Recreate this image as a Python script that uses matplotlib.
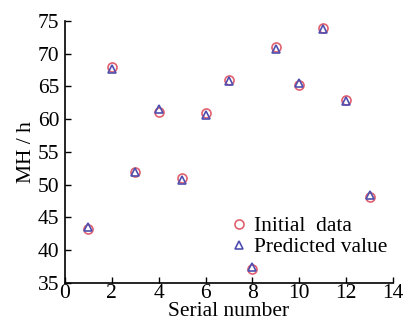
import matplotlib
matplotlib.use('Agg')
import matplotlib.pyplot as plt

plt.rcParams['font.family'] = 'Liberation Serif'
plt.rcParams['font.size'] = 15.5

serial = [1, 2, 3, 4, 5, 6, 7, 8, 9, 10, 11, 12, 13]
initial = [43.2, 68.0, 52.0, 61.1, 51.0, 61.0, 66.0, 37.1, 71.0, 65.2, 74.0, 63.0, 48.1]
predicted = [43.6, 67.7, 52.0, 61.5, 50.8, 60.6, 65.8, 37.5, 70.7, 65.5, 73.8, 62.8, 48.5]

fig = plt.figure(figsize=(4.03, 3.27), dpi=100)
ax = fig.add_axes([65 / 403, 1 - 283 / 327, 328 / 403, 262 / 327])

ax.plot(serial, initial, 'o', mfc='none', mec='#e0606e', ms=6.5, mew=1.2, label='Initial  data')
ax.plot(serial, predicted, '^', mfc='none', mec='#4f4fb0', ms=6, mew=1.2, label='Predicted value')

ax.set_xlim(0, 14)
ax.set_ylim(35, 75)
ax.set_xticks(range(0, 15, 2))
ax.set_yticks(range(35, 76, 5))
ax.tick_params(direction='in', length=4, width=1)
ax.tick_params(axis='x', pad=1)
ax.tick_params(axis='y', pad=4)
for s in ['top', 'right']:
    ax.spines[s].set_visible(False)
ax.spines['left'].set_linewidth(1.2)
ax.spines['bottom'].set_linewidth(1.2)

ax.set_xlabel('Serial number', labelpad=-1)
ax.set_ylabel('MH / h', labelpad=1)

ax.legend(loc='lower right', bbox_to_anchor=(1.03, 0.04), frameon=False,
          handletextpad=0.2, borderpad=0.2, labelspacing=0.05, handlelength=1.0)

fig.savefig('out.png', dpi=100)
